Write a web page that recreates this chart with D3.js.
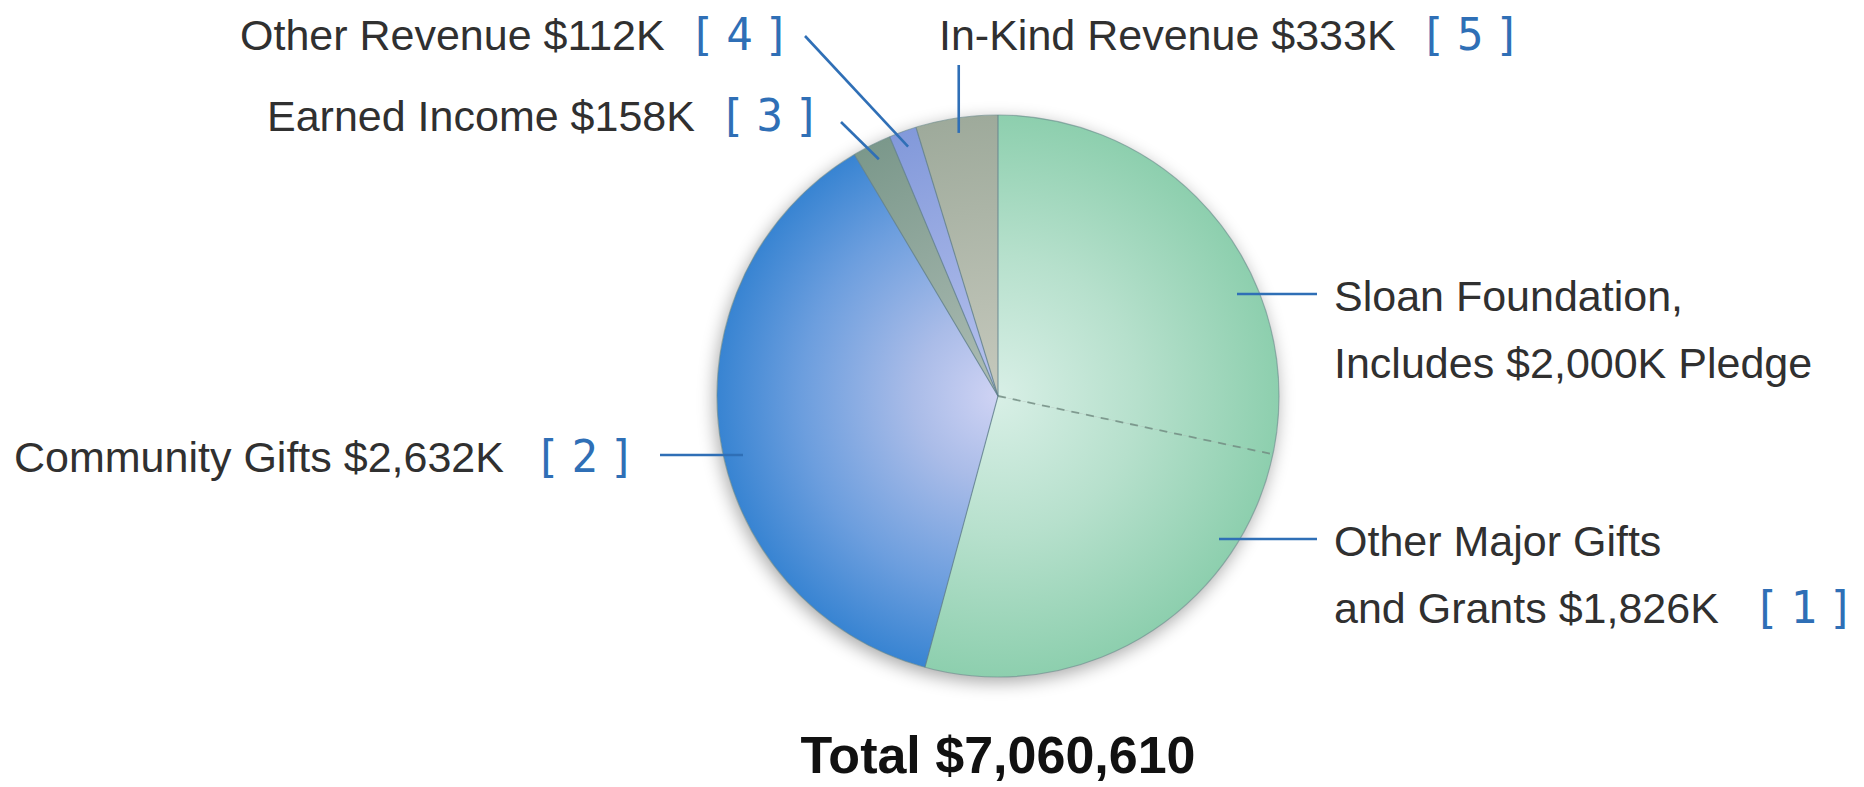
<!DOCTYPE html>
<html><head><meta charset="utf-8">
<script src="https://cdn.jsdelivr.net/npm/d3@7"></script>
<style>html,body{margin:0;padding:0;background:#fff;overflow:hidden}</style>
</head><body>
<svg id="chart" width="1864" height="787"></svg>
<script>
// ---- data ----
const categories = ["Sloan Foundation", "Other Major Gifts and Grants", "Community Gifts", "Earned Income", "Other Revenue", "In-Kind Revenue"];
const values = [2000, 1826, 2632, 158, 112, 333];           // $K
const refNumbers = ["", "1", "2", "3", "4", "5"];
const labelLines = [
  ["Sloan Foundation,", "Includes $2,000K Pledge"],
  ["Other Major Gifts", "and Grants $1,826K"],
  ["Community Gifts $2,632K"],
  ["Earned Income $158K"],
  ["Other Revenue $112K"],
  ["In-Kind Revenue $333K"]
];
const totalLabel = "Total $7,060,610";

// ---- layout / style ----
const W = 1864, H = 787;
const cx = 998, cy = 396, R = 281;
const gradStops = [
  [["0", "#d8efe6"], ["0.5", "#b6e0cc"], ["1", "#8dcfae"]],
  [["0", "#d8efe6"], ["0.5", "#b6e0cc"], ["1", "#8dcfae"]],
  [["0", "#cfd3f4"], ["0.3", "#aabce8"], ["0.7", "#6c9ede"], ["1", "#3884d2"]],
  [["0", "#aebdb5"], ["1", "#7b988b"]],
  [["0", "#b8c3ee"], ["1", "#8299da"]],
  [["0", "#c6c9bd"], ["1", "#9eaa9b"]]
];
// label placement: text x/y (first baseline), leader line definition
const labelLayout = [
  {x: 1334, y: 311, line: {type: "h", y: 294, x1: 1237, x2: 1317}, gap: 0},
  {x: 1334, y: 556, line: {type: "h", y: 539, x1: 1219, x2: 1317}, gap: 34},
  {x: 14, y: 472, line: {type: "h", y: 455, x1: 660, x2: 743}, gap: 30},
  {x: 267, y: 131, line: {type: "p", ox: 841, oy: 122, r: 265}, gap: 24},
  {x: 240, y: 50, line: {type: "p", ox: 805, oy: 36, r: 265}, gap: 24},
  {x: 939, y: 50, line: {type: "v", oy: 65, r: 266}, gap: 24}
];
const lineSpacing = 67;

const svg = d3.select("#chart");
const defs = svg.append("defs");

const f = defs.append("filter").attr("id", "shadow")
  .attr("x", "-20%").attr("y", "-20%").attr("width", "140%").attr("height", "140%");
f.append("feGaussianBlur").attr("in", "SourceAlpha").attr("stdDeviation", 9).attr("result", "b");
f.append("feOffset").attr("in", "b").attr("dx", -2).attr("dy", 5).attr("result", "o");
f.append("feComponentTransfer").attr("in", "o").append("feFuncA").attr("type", "linear").attr("slope", 0.35);

// gradients are defined in the pie group's own (translated) coordinates
gradStops.forEach((stops, i) => {
  const g = defs.append("radialGradient").attr("id", "g" + i)
    .attr("gradientUnits", "userSpaceOnUse")
    .attr("cx", 0).attr("cy", 0).attr("fx", 0).attr("fy", 0).attr("r", R);
  stops.forEach(s => g.append("stop").attr("offset", s[0]).attr("stop-color", s[1]));
});

const pie = d3.pie().sort(null).value(d => d)(values);
const arc = d3.arc().innerRadius(0).outerRadius(R);

const gp = svg.append("g").attr("transform", `translate(${cx},${cy})`);
gp.append("circle").attr("r", R).attr("fill", "#000").attr("filter", "url(#shadow)");

gp.selectAll("path.slice").data(pie).join("path")
  .attr("class", "slice")
  .attr("d", arc)
  .attr("fill", (d, i) => `url(#g${i})`);

// separators
gp.selectAll("line.sep").data(pie).join("line")
  .attr("class", "sep")
  .attr("x1", 0).attr("y1", 0)
  .attr("x2", d => R * Math.sin(d.startAngle))
  .attr("y2", d => -R * Math.cos(d.startAngle))
  .attr("stroke", (d, i) => i === 1 ? "#6f8a80" : "#5f7f8c")
  .attr("stroke-width", (d, i) => i === 1 ? 1.8 : 1.1)
  .attr("stroke-opacity", 0.8)
  .attr("stroke-dasharray", (d, i) => i === 1 ? "8,7" : null);

gp.append("circle").attr("r", R).attr("fill", "none")
  .attr("stroke", "#6a8a8c").attr("stroke-opacity", 0.6).attr("stroke-width", 1.2);

// leader lines
const blue = "#2f6fb6";
const leaders = svg.append("g");
pie.forEach((d, i) => {
  const L = labelLayout[i].line;
  const mid = (d.startAngle + d.endAngle) / 2;
  let x1, y1, x2, y2;
  if (L.type === "h") { x1 = L.x1; x2 = L.x2; y1 = y2 = L.y; }
  else if (L.type === "v") {
    x1 = x2 = cx + L.r * Math.sin(mid);
    y1 = L.oy; y2 = cy - L.r * Math.cos(mid);
  } else {
    x1 = L.ox; y1 = L.oy;
    x2 = cx + L.r * Math.sin(mid); y2 = cy - L.r * Math.cos(mid);
  }
  leaders.append("line").attr("x1", x1).attr("y1", y1).attr("x2", x2).attr("y2", y2)
    .attr("stroke", blue).attr("stroke-width", 2.6);
});

// labels
const labels = svg.append("g")
  .attr("font-family", "'Liberation Sans', Arial, Helvetica, sans-serif")
  .attr("font-size", 43).attr("fill", "#303030");
labelLines.forEach((lines, i) => {
  const P = labelLayout[i];
  lines.forEach((ln, j) => {
    const t = labels.append("text").attr("x", P.x).attr("y", P.y + j * lineSpacing);
    t.append("tspan").text(ln);
    if (j === lines.length - 1 && refNumbers[i]) {
      const parts = ["[", refNumbers[i], "]"];
      parts.forEach((p, k) => {
        t.append("tspan").attr("dx", k === 0 ? P.gap : 11)
          .attr("font-family", "'DejaVu Sans Mono', monospace")
          .attr("font-size", 44).attr("fill", blue)
          .text(p);
      });
    }
  });
});

svg.append("text").attr("x", cx).attr("y", 773)
  .attr("text-anchor", "middle")
  .attr("font-family", "'Liberation Sans', Arial, Helvetica, sans-serif")
  .attr("font-weight", "bold").attr("font-size", 52).attr("fill", "#111")
  .text(totalLabel);
</script>
</body></html>
